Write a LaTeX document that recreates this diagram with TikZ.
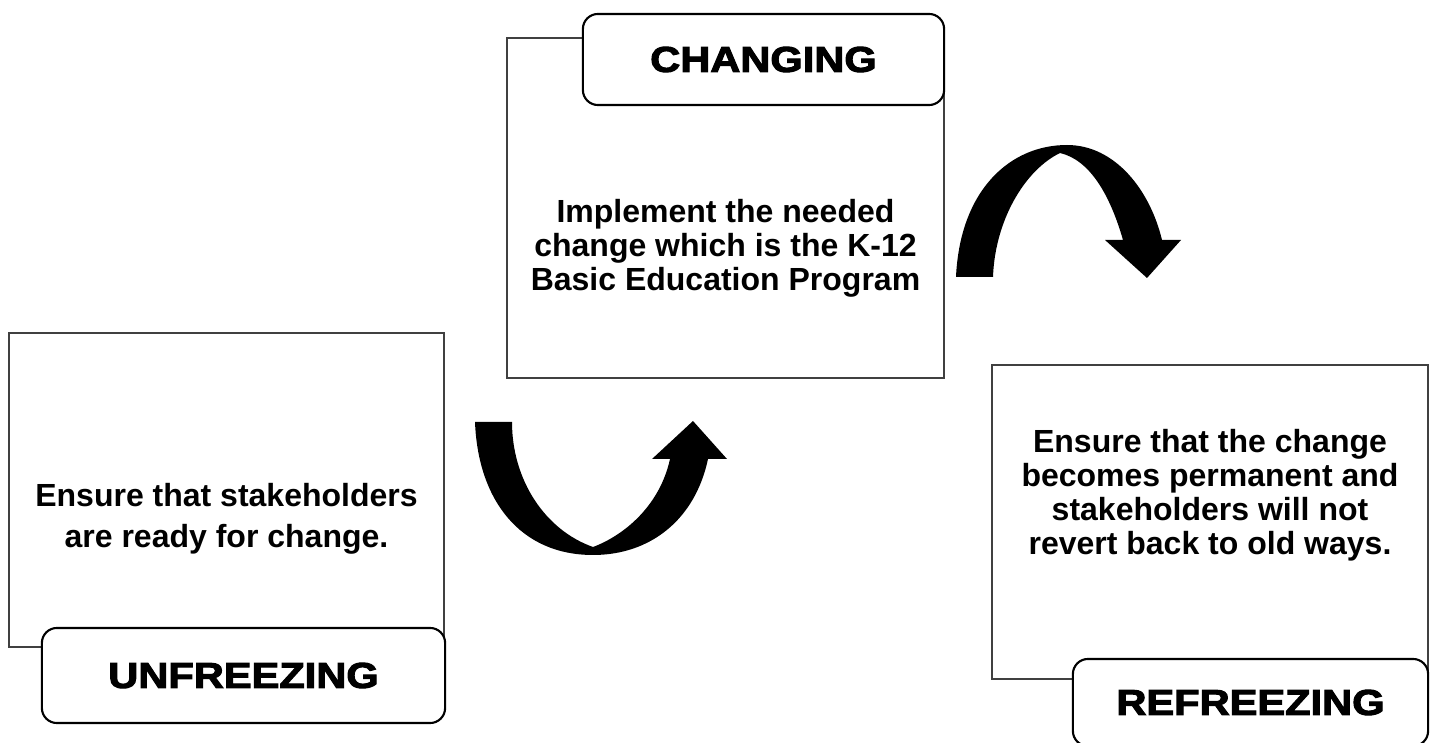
\documentclass[tikz,border=0pt]{standalone}
\usepackage{fontspec}
\setmainfont{Liberation Sans}
\newfontfamily\stagefont{Liberation Sans}[BoldFeatures={FakeStretch=1.16,FakeBold=3}]
\usetikzlibrary{positioning}
\tikzset{stagebox/.style={rectangle,draw=black!75,line width=0.4pt,inner sep=0pt,outer sep=0pt,fill=white}}
\tikzset{stagelabel/.style={rectangle,rounded corners=0.15cm,draw=black,line width=0.6pt,fill=white,inner sep=0pt,outer sep=0pt,font=\stagefont\bfseries\fontsize{10.2pt}{11pt}\selectfont}}
\tikzset{stagetext/.style={align=center,inner sep=0pt,font=\bfseries\fontsize{9.1pt}{9.67pt}\selectfont}}
\tikzset{bigarrow/.style={fill=black,draw=none}}

\begin{document}
\begin{tikzpicture}[x=0.01cm,y=-0.01cm]
\useasboundingbox (0,0) rectangle (1430,743);

\node [stagebox,minimum width=4.35cm,minimum height=3.14cm] (unfbox) at (226.5,490) {};
\node [stagebox,minimum width=4.37cm,minimum height=3.40cm] (chgbox) at (725.5,208) {};
\node [stagebox,minimum width=4.36cm,minimum height=3.14cm] (refbox) at (1210,522) {};

\node [stagetext,font=\bfseries\fontsize{9.1pt}{11.8pt}\selectfont] (unftext) at (226.5,519) {Ensure that stakeholders\\are ready for change.};
\node [stagetext] (chgtext) at (725.5,248) {Implement the needed\\change which is the K-12\\Basic Education Program};
\node [stagetext] (reftext) at (1210,495) {Ensure that the change\\becomes permanent and\\stakeholders will not\\revert back to old ways.};

\node [stagelabel,minimum width=4.03cm,minimum height=0.95cm] (unflab) at (243.5,675.5) {UNFREEZING};
\node [stagelabel,minimum width=3.61cm,minimum height=0.91cm] (chglab) at (763.5,59.5) {CHANGING};
\node [stagelabel,minimum width=3.55cm,minimum height=0.87cm] (reflab) at (1250.5,702.5) {REFREEZING};

\fill [bigarrow] (475,422) -- (512,422) .. controls (512,480) and (545,530) .. (593,547)
  .. controls (625,535) and (660,505) .. (670,459) -- (652,459) -- (693,421) -- (727,459) -- (708,459)
  .. controls (695,520) and (650,555) .. (593,555) .. controls (520,555) and (478,500) .. (475,422) -- cycle;

\fill [bigarrow] (956,277) .. controls (960,190) and (1010,145) .. (1067,145)
  .. controls (1115,145) and (1150,190) .. (1162,240) -- (1181,240) -- (1147,278) -- (1105,240) -- (1123,240)
  .. controls (1110,195) and (1090,160) .. (1060,153) .. controls (1025,170) and (995,220) .. (993,277) -- cycle;
\end{tikzpicture}
\end{document}
